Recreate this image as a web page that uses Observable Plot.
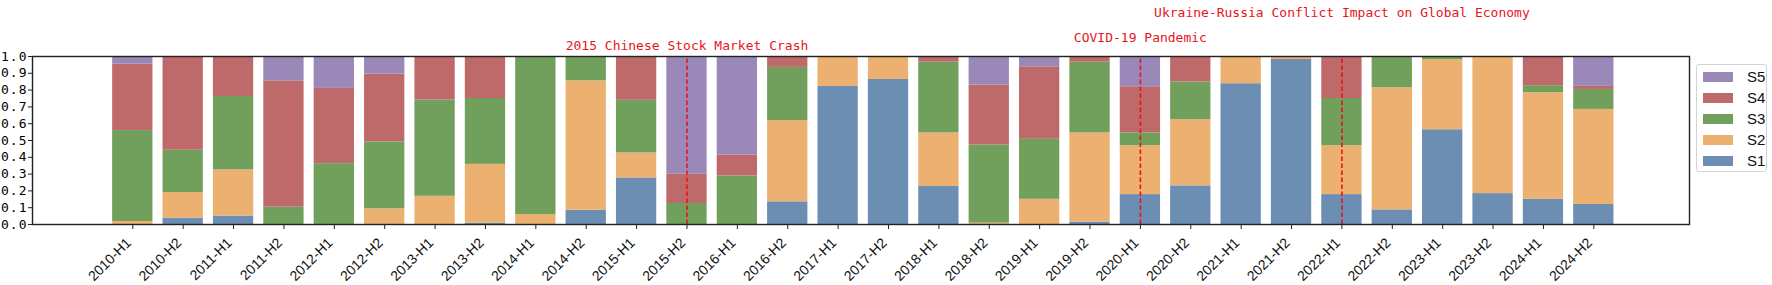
<!DOCTYPE html>
<html>
<head>
<meta charset="utf-8">
<script src="https://cdn.jsdelivr.net/npm/d3@7"></script>
<script src="https://cdn.jsdelivr.net/npm/@observablehq/plot@0.6"></script>
<style>
  html, body { margin: 0; padding: 0; background: #fff; }
  #wrap { position: relative; width: 1772px; height: 285px; }
  #legend {
    position: absolute; left: 1696px; top: 64px; width: 71px; height: 108px;
    border: 1px solid #d4d4d4; border-radius: 3px; background: #fff; box-sizing: border-box;
    font-family: "Liberation Sans", Arial, sans-serif; font-size: 15px; color: #111;
  }
  .item { position: absolute; left: 6px; height: 12px; }
  .sw { position: absolute; left: 0; top: 1px; width: 30px; height: 10px; box-sizing: border-box; }
  .lab { position: absolute; left: 44px; top: -3px; line-height: 17px; }
</style>
</head>
<body>
<div id="wrap"></div>
<script>
const periods = ["2010-H1","2010-H2","2011-H1","2011-H2","2012-H1","2012-H2","2013-H1","2013-H2","2014-H1","2014-H2",
  "2015-H1","2015-H2","2016-H1","2016-H2","2017-H1","2017-H2","2018-H1","2018-H2","2019-H1","2019-H2",
  "2020-H1","2020-H2","2021-H1","2021-H2","2022-H1","2022-H2","2023-H1","2023-H2","2024-H1","2024-H2"];
const seriesNames = ["S1","S2","S3","S4","S5"];
const seriesColors = ["#6b8eb2","#ecb070","#71a05d","#be6a6a","#9a88b9"];

const S1 = [0,.038,.050,0,0,0,0,.008,0,.085, .277,0,0,.135,.822,.863,.226,0,0,.014, .178,.230,.838,.982,.178,.087,.564,.184,.150,.119];
const S2 = [.018,.152,.275,0,0,.093,.168,.350,.059,.770, .149,0,0,.483,.178,.137,.319,.008,.150,.531, .291,.394,.162,.018,.291,.727,.416,.816,.634,.566];
const S3 = [.542,.252,.437,.103,.362,.398,.573,.392,.941,.145, .313,.125,.289,.317,0,0,.421,.465,.357,.421, .076,.224,0,0,.281,.186,.020,0,.042,.119];
const S4 = [.394,.558,.238,.752,.448,.404,.259,.250,0,0, .261,.176,.125,.065,0,0,.034,.357,.432,.034, .275,.152,0,0,.250,0,0,0,.174,.018];
const S5 = [.046,0,0,.145,.190,.105,0,0,0,0, 0,.699,.586,0,0,0,0,.170,.061,0, .180,0,0,0,0,0,0,0,0,.178];

const events = ["2015-H2","2020-H1","2022-H1"];
const eventLabels = ["2015 Chinese Stock Market Crash","COVID-19 Pandemic","Ukraine-Russia Conflict Impact on Global Economy"];
const eventLabelY = [1.05, 1.10, 1.25];
const yTicks = [0,0.1,0.2,0.3,0.4,0.5,0.6,0.7,0.8,0.9,1.0];

const seriesValues = [S1,S2,S3,S4,S5];
const data = [];
periods.forEach((p, i) => {
  seriesNames.forEach((s, k) => data.push({period: p, series: s, value: seriesValues[k][i]}));
});
const eventData = events.map((e, i) => ({period: e, label: eventLabels[i], y: eventLabelY[i]}));

const W = 1772, H = 285;
const mL = 32, mR = 83, mT = 56, mB = 61;
const step = 50.38, firstCenter = 132.3;

const chart = Plot.plot({
  width: W, height: H,
  marginLeft: mL, marginRight: mR, marginTop: mT, marginBottom: mB,
  style: {background: "#fff", overflow: "visible"},
  x: {type: "band", domain: periods, range: [firstCenter - step/2, firstCenter + 29*step + step/2],
      paddingInner: 0.2, paddingOuter: 0.1, align: 0.5, round: false, label: null},
  y: {domain: [0, 1], label: null},
  color: {domain: seriesNames, range: seriesColors},
  marks: [
    Plot.barY(data, {x: "period", y: "value", fill: "series", order: seriesNames, inset: 0}),
    Plot.ruleX(eventData, {x: "period", y1: 0, y2: 1, stroke: "#e8141a", strokeWidth: 1.6, strokeDasharray: "4.5,2.5"}),
    Plot.text(eventData, {x: "period", y: "y", text: "label", fill: "#e8141a", fontSize: 13,
      fontFamily: "DejaVu Sans Mono, monospace", textAnchor: "middle", lineAnchor: "bottom", dy: 2}),
    Plot.frame({stroke: "#222", strokeWidth: 1.4}),
    Plot.axisY({ticks: yTicks, tickFormat: d3.format(".1f"), tickSize: 4, tickPadding: 1,
      fontSize: 13, fontFamily: "DejaVu Sans Mono, monospace", label: null, stroke: "#222"}),
    Plot.axisX({tickSize: 5, tickFormat: () => "", label: null, stroke: "#222"}),
    Plot.text(periods, {x: (d) => d, y: 0, text: (d) => d, rotate: -45, textAnchor: "end", lineAnchor: "middle",
      dx: -4, dy: 16, fontSize: 14, fontFamily: "Liberation Sans, Arial, sans-serif", fill: "#111"})
  ]
});
chart.querySelectorAll('g[aria-label="y-axis tick label"] text').forEach(t => t.setAttribute("letter-spacing", "1"));
document.getElementById("wrap").appendChild(chart);

// legend (S5 at top, S1 at bottom)
const legend = document.createElement("div");
legend.id = "legend";
[...seriesNames].reverse().forEach((s, i) => {
  const item = document.createElement("div");
  item.className = "item";
  item.style.top = (6 + i * 21) + "px";
  const sw = document.createElement("div");
  sw.className = "sw";
  sw.style.background = seriesColors[seriesNames.indexOf(s)];
  const lab = document.createElement("div");
  lab.className = "lab";
  lab.textContent = s;
  item.appendChild(sw); item.appendChild(lab);
  legend.appendChild(item);
});
document.getElementById("wrap").appendChild(legend);
</script>
</body>
</html>
